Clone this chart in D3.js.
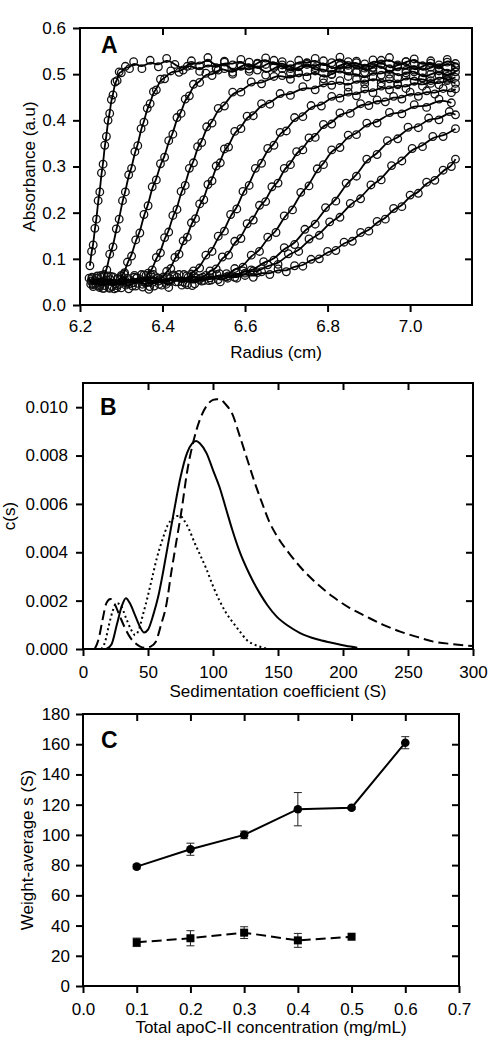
<!DOCTYPE html>
<html><head><meta charset="utf-8">
<script src="https://cdn.jsdelivr.net/npm/d3@7"></script>
<style>
body{margin:0;background:#fff}
svg{display:block}
text{font-family:Arial,"Liberation Sans",sans-serif;fill:#000}
</style></head>
<body><svg id="chart" width="495" height="1050"></svg>
<script>
// ---------- Panel A: absorbance scans [radius (cm), absorbance] ----------
const scan01=[[6.224,.085],[6.228,.116],[6.232,.13],[6.236,.166],[6.24,.186],[6.244,.226],[6.248,.245],[6.252,.286],[6.256,.305],[6.26,.346],[6.264,.365],[6.268,.4],[6.272,.415],[6.276,.445],[6.28,.455],[6.285,.483],[6.29,.486],[6.295,.505],[6.3,.503],[6.31,.517],[6.32,.512],[6.33,.527],[6.35,.512],[6.37,.53],[6.39,.516],[6.41,.534],[6.43,.521],[6.45,.509],[6.47,.529],[6.49,.518],[6.51,.536],[6.53,.514],[6.55,.526],[6.57,.52],[6.59,.532],[6.61,.511],[6.63,.524],[6.65,.535],[6.67,.517],[6.69,.527],[6.71,.512],[6.73,.53],[6.75,.521],[6.77,.534],[6.79,.515],[6.81,.525],[6.83,.537],[6.85,.519],[6.87,.528],[6.89,.513],[6.91,.531],[6.93,.522],[6.95,.536],[6.97,.516],[6.99,.527],[7.01,.533],[7.03,.518],[7.05,.529],[7.07,.514],[7.09,.532],[7.11,.523]];
const scan02=[[6.222,.058],[6.232,.04],[6.242,.062],[6.252,.047],[6.258,.066],[6.265,.076],[6.272,.11],[6.28,.126],[6.288,.165],[6.295,.186],[6.303,.226],[6.31,.245],[6.318,.282],[6.325,.296],[6.333,.332],[6.34,.345],[6.348,.382],[6.355,.396],[6.363,.426],[6.37,.436],[6.378,.462],[6.385,.466],[6.395,.489],[6.405,.49],[6.42,.507],[6.44,.504],[6.46,.517],[6.47,.519],[6.49,.506],[6.51,.524],[6.53,.511],[6.55,.528],[6.57,.504],[6.59,.517],[6.61,.526],[6.63,.509],[6.65,.521],[6.67,.53],[6.69,.512],[6.71,.52],[6.73,.503],[6.75,.525],[6.77,.514],[6.79,.529],[6.81,.508],[6.83,.519],[6.85,.527],[6.87,.506],[6.89,.522],[6.91,.513],[6.93,.53],[6.95,.51],[6.97,.52],[6.99,.527],[7.01,.505],[7.03,.518],[7.05,.524],[7.07,.511],[7.09,.526],[7.11,.516]];
const scan03=[[6.226,.045],[6.242,.063],[6.258,.036],[6.274,.055],[6.29,.042],[6.3,.064],[6.308,.07],[6.315,.093],[6.325,.106],[6.335,.141],[6.345,.156],[6.355,.196],[6.365,.215],[6.375,.256],[6.385,.271],[6.395,.306],[6.405,.32],[6.415,.356],[6.425,.37],[6.435,.406],[6.445,.415],[6.455,.446],[6.465,.453],[6.475,.478],[6.49,.482],[6.505,.502],[6.52,.497],[6.535,.509],[6.55,.512],[6.57,.5],[6.59,.518],[6.61,.506],[6.63,.522],[6.65,.498],[6.67,.514],[6.69,.52],[6.71,.503],[6.73,.516],[6.75,.524],[6.77,.507],[6.79,.513],[6.81,.499],[6.83,.52],[6.85,.51],[6.87,.525],[6.89,.504],[6.91,.515],[6.93,.521],[6.95,.5],[6.97,.517],[6.99,.508],[7.01,.523],[7.03,.505],[7.05,.515],[7.07,.52],[7.09,.502],[7.11,.514]];
const scan04=[[6.229,.06],[6.247,.041],[6.265,.054],[6.283,.035],[6.301,.062],[6.319,.046],[6.337,.058],[6.355,.05],[6.365,.069],[6.375,.076],[6.385,.103],[6.395,.113],[6.405,.146],[6.415,.158],[6.425,.194],[6.435,.207],[6.445,.246],[6.455,.259],[6.465,.296],[6.475,.308],[6.485,.343],[6.495,.352],[6.507,.386],[6.52,.394],[6.535,.426],[6.55,.431],[6.57,.461],[6.59,.461],[6.615,.483],[6.64,.479],[6.67,.495],[6.69,.497],[6.71,.489],[6.73,.503],[6.75,.494],[6.77,.508],[6.79,.49],[6.81,.5],[6.83,.511],[6.85,.495],[6.87,.504],[6.89,.487],[6.91,.506],[6.93,.498],[6.95,.512],[6.97,.493],[6.99,.503],[7.01,.509],[7.03,.491],[7.05,.5],[7.07,.507],[7.09,.495],[7.11,.505]];
const scan05=[[6.231,.047],[6.251,.064],[6.271,.038],[6.291,.057],[6.311,.043],[6.331,.06],[6.351,.045],[6.371,.066],[6.39,.052],[6.402,.061],[6.41,.073],[6.42,.079],[6.43,.103],[6.44,.11],[6.45,.139],[6.46,.147],[6.47,.178],[6.48,.187],[6.49,.219],[6.5,.228],[6.51,.261],[6.52,.269],[6.53,.301],[6.54,.308],[6.55,.338],[6.56,.342],[6.575,.376],[6.59,.382],[6.605,.409],[6.62,.41],[6.64,.436],[6.66,.435],[6.685,.458],[6.71,.454],[6.74,.473],[6.77,.466],[6.79,.481],[6.81,.476],[6.83,.486],[6.85,.472],[6.87,.489],[6.89,.479],[6.91,.494],[6.93,.481],[6.95,.49],[6.97,.477],[6.99,.496],[7.01,.485],[7.03,.492],[7.05,.48],[7.07,.497],[7.09,.486],[7.11,.493]];
const scan06=[[6.227,.052],[6.247,.038],[6.267,.061],[6.287,.046],[6.307,.067],[6.327,.041],[6.347,.055],[6.367,.034],[6.387,.059],[6.407,.049],[6.427,.065],[6.447,.043],[6.462,.06],[6.475,.074],[6.49,.08],[6.505,.108],[6.52,.116],[6.535,.149],[6.55,.16],[6.565,.196],[6.58,.208],[6.595,.246],[6.61,.259],[6.625,.296],[6.64,.307],[6.655,.339],[6.67,.346],[6.685,.374],[6.7,.377],[6.72,.406],[6.74,.408],[6.76,.432],[6.785,.431],[6.81,.452],[6.83,.448],[6.85,.461],[6.87,.453],[6.89,.468],[6.91,.46],[6.93,.474],[6.95,.466],[6.97,.479],[6.99,.469],[7.01,.485],[7.03,.474],[7.05,.486],[7.07,.477],[7.09,.489],[7.11,.48]];
const scan07=[[6.229,.057],[6.249,.043],[6.269,.063],[6.289,.037],[6.309,.054],[6.329,.048],[6.349,.066],[6.369,.04],[6.389,.058],[6.409,.045],[6.429,.062],[6.449,.05],[6.469,.067],[6.489,.055],[6.505,.064],[6.515,.074],[6.53,.078],[6.545,.104],[6.56,.108],[6.575,.138],[6.59,.144],[6.605,.176],[6.62,.184],[6.635,.216],[6.65,.224],[6.665,.256],[6.68,.264],[6.695,.296],[6.71,.304],[6.725,.332],[6.74,.336],[6.755,.362],[6.77,.363],[6.79,.391],[6.81,.392],[6.83,.416],[6.855,.415],[6.88,.436],[6.9,.432],[6.92,.444],[6.94,.44],[6.96,.452],[6.98,.446],[7.0,.461],[7.02,.452],[7.04,.464],[7.06,.457],[7.08,.469],[7.1,.46],[7.11,.468]];
const scan08=[[6.232,.044],[6.252,.06],[6.272,.036],[6.292,.057],[6.312,.047],[6.332,.064],[6.352,.039],[6.372,.055],[6.392,.045],[6.412,.061],[6.432,.05],[6.452,.066],[6.472,.042],[6.492,.058],[6.512,.053],[6.532,.066],[6.555,.061],[6.575,.079],[6.595,.082],[6.615,.108],[6.635,.116],[6.655,.147],[6.675,.157],[6.695,.193],[6.715,.206],[6.735,.244],[6.755,.258],[6.775,.295],[6.79,.304],[6.81,.336],[6.83,.341],[6.85,.368],[6.87,.369],[6.895,.394],[6.92,.394],[6.95,.417],[6.98,.414],[7.01,.434],[7.04,.428],[7.07,.446],[7.1,.438]];
const scan09=[[6.235,.053],[6.255,.036],[6.275,.062],[6.295,.045],[6.315,.058],[6.335,.041],[6.355,.065],[6.375,.049],[6.395,.056],[6.415,.038],[6.435,.06],[6.455,.047],[6.475,.064],[6.495,.052],[6.515,.059],[6.535,.055],[6.555,.068],[6.575,.06],[6.595,.074],[6.62,.074],[6.645,.094],[6.67,.097],[6.695,.124],[6.72,.131],[6.745,.164],[6.77,.175],[6.795,.211],[6.82,.225],[6.845,.264],[6.87,.279],[6.895,.316],[6.92,.326],[6.945,.356],[6.97,.36],[6.995,.385],[7.02,.384],[7.045,.405],[7.07,.401],[7.095,.419],[7.11,.412]];
const scan10=[[6.238,.046],[6.258,.063],[6.278,.04],[6.298,.055],[6.318,.035],[6.338,.059],[6.358,.048],[6.378,.066],[6.398,.043],[6.418,.057],[6.438,.05],[6.458,.063],[6.478,.046],[6.498,.06],[6.518,.054],[6.538,.068],[6.558,.058],[6.578,.07],[6.6,.064],[6.615,.076],[6.63,.07],[6.655,.087],[6.68,.088],[6.705,.111],[6.73,.116],[6.755,.143],[6.78,.151],[6.805,.18],[6.83,.19],[6.855,.22],[6.88,.23],[6.905,.26],[6.93,.271],[6.955,.302],[6.98,.312],[7.005,.339],[7.03,.343],[7.055,.365],[7.08,.365],[7.11,.382]];
const scan11=[[6.24,.058],[6.26,.042],[6.28,.061],[6.3,.037],[6.32,.055],[6.34,.047],[6.36,.064],[6.38,.041],[6.4,.057],[6.42,.051],[6.44,.066],[6.46,.044],[6.48,.059],[6.5,.053],[6.52,.067],[6.54,.05],[6.56,.063],[6.58,.058],[6.6,.069],[6.62,.06],[6.64,.072],[6.66,.066],[6.68,.078],[6.7,.072],[6.72,.085],[6.74,.084],[6.76,.099],[6.78,.1],[6.8,.116],[6.82,.118],[6.84,.136],[6.86,.138],[6.88,.157],[6.9,.16],[6.92,.181],[6.94,.186],[6.96,.209],[6.98,.213],[7.0,.238],[7.02,.242],[7.04,.266],[7.06,.27],[7.08,.292],[7.1,.3],[7.11,.316]];
const scansA=[scan01,scan02,scan03,scan04,scan05,scan06,scan07,scan08,scan09,scan10,scan11];
const radiusTicks=[6.2,6.4,6.6,6.8,7.0];
const absTicks=[0,0.1,0.2,0.3,0.4,0.5,0.6];

// ---------- Panel B: c(s) distributions ----------
const sSolid=[18,22,26,30,33,36,40,44,47,50,54,58,62,66,70,75,80,84,87,90,95,100,105,110,115,120,128,136,142,149,158,167,180,192,202,211];
const cSolid=[0,0.0002,0.001,0.0018,0.0021,0.0019,0.0014,0.0009,0.00068,0.0008,0.0014,0.0022,0.0033,0.0045,0.0057,0.0071,0.0081,0.0085,0.0086,0.0085,0.0081,0.0074,0.0067,0.0058,0.0049,0.0041,0.0031,0.0023,0.0018,0.00134,0.00095,0.00066,0.0004,0.00025,0.00013,0.00005];
const sDashed=[9,12,15,18,21,24,28,32,36,40,44,48,52,56,60,64,68,72,76,80,85,90,95,100,103,106,110,115,120,126,132,138,143,150,158,167,178,192,205,218,231,244,257,270,285,300];
const cDashed=[0,0.0004,0.0012,0.0019,0.00207,0.0019,0.0014,0.0009,0.0005,0.00025,0.0001,0.00005,0.0001,0.0003,0.001,0.0018,0.0032,0.0045,0.0058,0.0073,0.0086,0.0095,0.01005,0.0103,0.01033,0.0103,0.0101,0.0097,0.0089,0.0079,0.0069,0.006,0.0053,0.0046,0.004,0.0034,0.0028,0.00217,0.0017,0.00134,0.001,0.00072,0.0005,0.0003,0.0002,0.00012];
const sDotted=[14,17,20,23,26,29,33,37,40,43,46,49,53,57,61,65,69,72,75,78,82,85,90,95,100,105,110,116,121,126,132,138,142];
const cDotted=[0,0.0003,0.001,0.0016,0.0019,0.0018,0.0013,0.0008,0.00058,0.0008,0.0014,0.002,0.0029,0.0038,0.0045,0.0051,0.0054,0.0055,0.0055,0.0053,0.0049,0.0045,0.0039,0.0033,0.0026,0.002,0.0015,0.00105,0.0007,0.00037,0.00018,0.00006,0];
const sTicks=[0,50,100,150,200,250,300];
const csTicks=[0,0.002,0.004,0.006,0.008,0.010];

// ---------- Panel C: weight-average s ----------
const conc=[0.1,0.2,0.3,0.4,0.5,0.6];
const sLarge=[79,90.5,100,117,118,161];
const sLargeErr=[1.5,4,2.5,11,1,4];
const concSmall=[0.1,0.2,0.3,0.4,0.5];
const sSmall=[28.9,31.6,35.3,30.2,32.6];
const sSmallErr=[2.8,5,3.9,4.6,0];
const concTicks=[0,0.1,0.2,0.3,0.4,0.5,0.6,0.7];
const wTicks=[0,20,40,60,80,100,120,140,160,180];

const svg=d3.select('#chart');
const FS=17;

function panel(opts){
  const {x,y,xt,yt,xf,yf,xpad,ypad,letter,lx,ly,xTitle,xTitleY,yTitle,yTitleX}=opts;
  const g=svg.append('g');
  const [x0,x1]=x.range(), [y0,y1]=y.range();
  const bottom=g.append('g').attr('transform',`translate(0,${y0})`)
    .call(d3.axisBottom(x).tickValues(xt).tickSize(7).tickPadding(xpad).tickFormat(xf));
  const left=g.append('g').attr('transform',`translate(${x0},0)`)
    .call(d3.axisLeft(y).tickValues(yt).tickSize(7).tickPadding(ypad).tickFormat(yf));
  const top=g.append('g').attr('transform',`translate(0,${y1})`)
    .call(d3.axisTop(x).tickValues(xt.slice(1,-1)).tickSize(-7).tickFormat(''));
  const right=g.append('g').attr('transform',`translate(${x1},0)`)
    .call(d3.axisRight(y).tickValues(yt.slice(1,-1)).tickSize(-7).tickFormat(''));
  [bottom,left,top,right].forEach(a=>{
    a.select('.domain').remove();
    a.selectAll('line').attr('stroke','#000').attr('stroke-width',2);
    a.selectAll('text').attr('font-size',FS).attr('fill','#000').style('font-family','Arial, "Liberation Sans", sans-serif');
  });
  g.append('rect').attr('x',x0).attr('y',y1).attr('width',x1-x0).attr('height',y0-y1)
    .attr('fill','none').attr('stroke','#000').attr('stroke-width',2);
  g.append('text').attr('x',lx).attr('y',ly).attr('font-size',23).attr('font-weight','bold').text(letter);
  g.append('text').attr('x',(x0+x1)/2).attr('y',xTitleY).attr('text-anchor','middle').attr('font-size',FS).text(xTitle);
  g.append('text').attr('transform',`translate(${yTitleX},${(y0+y1)/2}) rotate(-90)`)
    .attr('text-anchor','middle').attr('font-size',FS).text(yTitle);
  return g;
}

// ---------- Panel A ----------
const xA=d3.scaleLinear().domain([6.2,7.15]).range([80,472]);
const yA=d3.scaleLinear().domain([0,0.6]).range([305,28]);
const gA=svg.append('g');
const lineA=d3.line().x(d=>xA(d[0])).y(d=>yA(d[1])).curve(d3.curveBasis);
scansA.forEach(sc=>{
  gA.append('g').selectAll('circle').data(sc).join('circle')
    .attr('cx',d=>xA(d[0])).attr('cy',d=>yA(d[1])).attr('r',3.8)
    .attr('fill','none').attr('stroke','#111').attr('stroke-width',1.3);
});
scansA.forEach(sc=>{
  gA.append('path').datum(sc).attr('d',lineA).attr('fill','none').attr('stroke','#000').attr('stroke-width',1.8);
});
panel({x:xA,y:yA,xt:radiusTicks,yt:absTicks,xf:d3.format('.1f'),yf:d3.format('.1f'),xpad:8,ypad:7,
  letter:'A',lx:101,ly:53,xTitle:'Radius (cm)',xTitleY:358,yTitle:'Absorbance (a.u)',yTitleX:35});

// ---------- Panel B ----------
const xB=d3.scaleLinear().domain([0,300]).range([83,473]);
const yB=d3.scaleLinear().domain([0,0.011]).range([649,383]);
const gB=svg.append('g');
const lineB=d3.line().x(d=>xB(d[0])).y(d=>yB(d[1])).curve(d3.curveMonotoneX);
[[sDotted,cDotted,'2,3'],[sDashed,cDashed,'10,5'],[sSolid,cSolid,null]].forEach(([s,c,dash])=>{
  const p=gB.append('path').datum(s.map((v,i)=>[v,c[i]])).attr('d',lineB)
    .attr('fill','none').attr('stroke','#000').attr('stroke-width',2);
  if(dash) p.attr('stroke-dasharray',dash);
});
panel({x:xB,y:yB,xt:sTicks,yt:csTicks,xf:d3.format('d'),yf:d3.format('.3f'),xpad:10,ypad:8,
  letter:'B',lx:100,ly:415,xTitle:'Sedimentation coefficient (S)',xTitleY:697,yTitle:'c(s)',yTitleX:15});

// ---------- Panel C ----------
const xC=d3.scaleLinear().domain([0,0.7]).range([83,459]);
const yC=d3.scaleLinear().domain([0,180]).range([986,714]);
const gC=svg.append('g');
const lineC=d3.line().x(d=>xC(d[0])).y(d=>yC(d[1]));
function errBars(xs,ys,es){
  xs.forEach((xv,i)=>{
    if(!es[i]) return;
    const cx=xC(xv), yt=yC(ys[i]+es[i]), yb=yC(ys[i]-es[i]);
    gC.append('line').attr('x1',cx).attr('x2',cx).attr('y1',yt).attr('y2',yb).attr('stroke','#222').attr('stroke-width',1);
    gC.append('line').attr('x1',cx-4).attr('x2',cx+4).attr('y1',yt).attr('y2',yt).attr('stroke','#222').attr('stroke-width',1);
    gC.append('line').attr('x1',cx-4).attr('x2',cx+4).attr('y1',yb).attr('y2',yb).attr('stroke','#222').attr('stroke-width',1);
  });
}
errBars(conc,sLarge,sLargeErr);
errBars(concSmall,sSmall,sSmallErr);
gC.append('path').datum(conc.map((v,i)=>[v,sLarge[i]])).attr('d',lineC).attr('fill','none').attr('stroke','#000').attr('stroke-width',2);
gC.append('path').datum(concSmall.map((v,i)=>[v,sSmall[i]])).attr('d',lineC).attr('fill','none').attr('stroke','#000').attr('stroke-width',2).attr('stroke-dasharray','10,5');
gC.selectAll('circle.m').data(conc).join('circle').attr('class','m')
  .attr('cx',d=>xC(d)).attr('cy',(d,i)=>yC(sLarge[i])).attr('r',4.3).attr('fill','#000');
gC.selectAll('rect.m').data(concSmall).join('rect').attr('class','m')
  .attr('x',d=>xC(d)-4).attr('y',(d,i)=>yC(sSmall[i])-4).attr('width',8).attr('height',8).attr('fill','#000');
panel({x:xC,y:yC,xt:concTicks,yt:wTicks,xf:d3.format('.1f'),yf:d3.format('d'),xpad:10,ypad:6,
  letter:'C',lx:101,ly:748,xTitle:'Total apoC-II concentration (mg/mL)',xTitleY:1033,yTitle:'Weight-average s (S)',yTitleX:33});
</script></body></html>
